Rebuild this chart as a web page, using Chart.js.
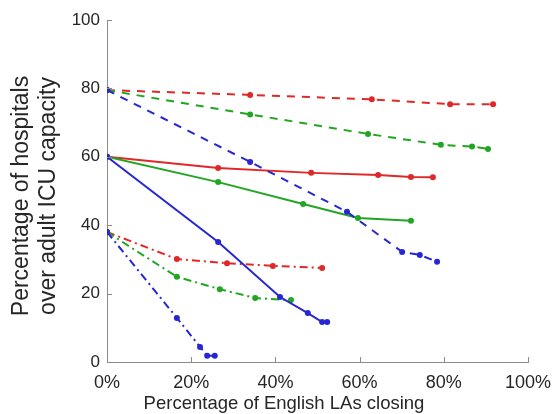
<!DOCTYPE html>
<html>
<head>
<meta charset="utf-8">
<script src="https://cdn.jsdelivr.net/npm/chart.js@4"></script>
<style>
  html,body{margin:0;padding:0;background:#fff;}
  #wrap{width:557px;height:414px;}
</style>
</head>
<body>
<div id="wrap"><canvas id="c" width="557" height="414"></canvas></div>
<script>
// % of English LAs closing (x) vs % of hospitals over adult ICU capacity (y)
const redSolidX   = [0, 26.4, 48.5, 64.4, 72.2, 77.4];
const redSolidY   = [60, 56.7, 55.3, 54.7, 54.1, 54.0];
const greenSolidX = [0, 26.4, 46.6, 59.6, 72.2];
const greenSolidY = [60, 52.6, 46.2, 42.1, 41.3];
const blueSolidX  = [0, 26.4, 41.1, 47.7, 51.1, 52.3];
const blueSolidY  = [60, 35.1, 19.0, 14.3, 11.7, 11.7];

const redDashX    = [0, 34, 62.9, 81.5, 91.7];
const redDashY    = [79.5, 78.1, 76.8, 75.4, 75.4];
const greenDashX  = [0, 34, 62, 79.3, 86.7, 90.5];
const greenDashY  = [79.5, 72.4, 66.7, 63.5, 63.0, 62.3];
const blueDashX   = [0, 34, 57, 70.1, 74.3, 78.4];
const blueDashY   = [79.5, 58.5, 43.9, 32.2, 31.3, 29.3];

const redDotX     = [0, 16.6, 28.5, 39.4, 51.1];
const redDotY     = [38, 30.1, 28.9, 28.1, 27.5];
const greenDotX   = [0, 16.6, 26.8, 35.2, 43.7];
const greenDotY   = [38, 24.9, 21.3, 18.7, 18.1];
const blueDotX    = [0, 16.6, 22.1, 23.8, 25.6];
const blueDotY    = [38, 12.9, 4.4, 1.8, 1.8];

const xTitle = 'Percentage of English LAs closing';
const yTitle = ['Percentage of hospitals', 'over adult ICU capacity'];

const RED='#e02828', GREEN='#22a622', BLUE='#2626d2';
const DASH=[8,7], DASHDOT=[8,4,2,4];
const FONT = "'Liberation Sans', Arial, Helvetica, sans-serif";
const TXT = '#262626';

function pts(xs, ys){ return xs.map((x,i)=>({x, y:ys[i]})); }
function ds(xs, ys, color, dash){
  return {data:pts(xs,ys), borderColor:color, backgroundColor:color, borderWidth:2,
    borderDash:dash||[], pointRadius:3, pointBorderWidth:0, pointHoverRadius:3, tension:0, fill:false};
}

// inward tick marks (matlab style) + axis titles
const decor = {
  id:'decor',
  afterDraw(chart){
    const {ctx, scales:{x, y}, chartArea:a} = chart;
    ctx.save(); ctx.strokeStyle='#8a8a8a'; ctx.lineWidth=1;
    ctx.beginPath();
    x.ticks.forEach(t=>{ const px=Math.round(x.getPixelForValue(t.value))+0.5; ctx.moveTo(px,a.bottom); ctx.lineTo(px,a.bottom-5); });
    y.ticks.forEach(t=>{ const py=Math.round(y.getPixelForValue(t.value))+0.5; ctx.moveTo(a.left,py); ctx.lineTo(a.left+5,py); });
    ctx.stroke();

    ctx.fillStyle=TXT; ctx.textAlign='center'; ctx.textBaseline='alphabetic';
    ctx.font = '18.5px '+FONT;
    ctx.fillText(xTitle, 284, 409);

    ctx.translate(0, 196); ctx.rotate(-Math.PI/2);
    ctx.font = '23px '+FONT;
    ctx.fillText(yTitle[0], 0, 28);
    ctx.fillText(yTitle[1], 0, 55);
    ctx.restore();
  }
};

new Chart(document.getElementById('c'), {
  type:'line',
  data:{datasets:[
    ds(blueSolidX, blueSolidY, BLUE),
    ds(blueDashX, blueDashY, BLUE, DASH),
    ds(blueDotX, blueDotY, BLUE, DASHDOT),
    ds(greenSolidX, greenSolidY, GREEN),
    ds(greenDashX, greenDashY, GREEN, DASH),
    ds(greenDotX, greenDotY, GREEN, DASHDOT),
    ds(redSolidX, redSolidY, RED),
    ds(redDashX, redDashY, RED, DASH),
    ds(redDotX, redDotY, RED, DASHDOT),
  ]},
  options:{
    responsive:false, animation:false,
    layout:{padding:{left:0, right:29, top:20, bottom:0}},
    plugins:{legend:{display:false}, tooltip:{enabled:false}},
    scales:{
      x:{type:'linear', min:0, max:100,
        ticks:{stepSize:20, color:TXT, font:{family:FONT, size:18}, padding:10, maxRotation:0,
          callback:v=>v+'%'},
        grid:{drawOnChartArea:false, drawTicks:false},
        border:{display:true, color:'#8a8a8a', width:1},
        afterFit:s=>{ s.height=52; s.paddingLeft=0; s.paddingRight=0; }
      },
      y:{min:0, max:100,
        ticks:{stepSize:20, color:TXT, font:{family:FONT, size:17}, padding:7},
        grid:{drawOnChartArea:false, drawTicks:false},
        border:{display:true, color:'#8a8a8a', width:1},
        afterFit:s=>{ s.width=107; s.paddingTop=0; s.paddingBottom=0; }
      }
    }
  },
  plugins:[decor]
});
</script>
</body>
</html>
